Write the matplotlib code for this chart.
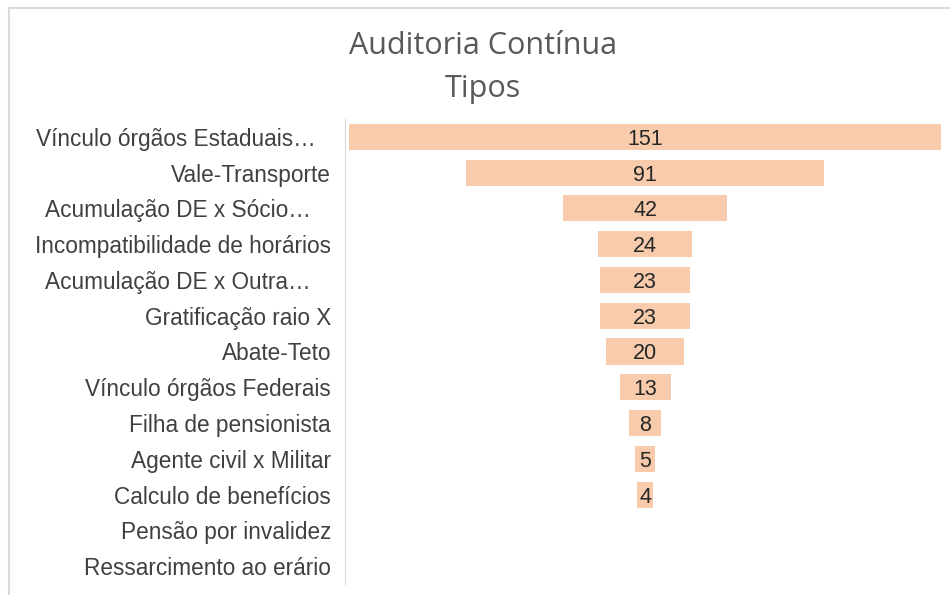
import matplotlib
matplotlib.use("Agg")
import matplotlib.pyplot as plt
from matplotlib.lines import Line2D
from matplotlib.transforms import ScaledTranslation

categories = ["Vínculo órgãos Estaduais…", "Vale-Transporte", "Acumulação DE x Sócio…",
              "Incompatibilidade de horários", "Acumulação DE x Outra…", "Gratificação raio X",
              "Abate-Teto", "Vínculo órgãos Federais", "Filha de pensionista",
              "Agente civil x Militar", "Calculo de benefícios", "Pensão por invalidez",
              "Ressarcimento ao erário"]
values = [151, 91, 42, 24, 23, 23, 20, 13, 8, 5, 4, 0, 0]

bar_color = "#F7CBAC"

plt.rcParams['font.family'] = ['Liberation Sans', 'DejaVu Sans']

fig = plt.figure(figsize=(9.5, 5.95), dpi=100)
ax = fig.add_axes([0.363, 0.0185, 0.632, 0.7815])

pos = list(range(len(categories)))
lefts = [-v / 2 for v in values]
ax.barh(pos, values, left=lefts, height=0.73, color=bar_color)

for p, v in zip(pos, values):
    if v > 0:
        ax.text(0, p, str(v), ha="center", va="center_baseline", fontsize=15.5, color="#262626")

ax.set_xlim(-76.5, 76.5)
ax.set_ylim(len(categories) - 0.5, -0.5)
ax.set_yticks(pos)
ax.set_yticklabels(categories, fontsize=16.3, color="#404040")
ax.tick_params(axis="y", length=0, pad=10)
ax.set_xticks([])
for s in ["top", "right", "bottom"]:
    ax.spines[s].set_visible(False)
ax.spines["left"].set_color("#D9D9D9")

# truncated labels sit a little further left, as in the original
for lab in ax.get_yticklabels():
    if lab.get_text().endswith("…"):
        dx = -15 if lab.get_text().startswith("Vínculo") else -20
        lab.set_transform(lab.get_transform() + ScaledTranslation(dx / 100, 0, fig.dpi_scale_trans))

fig.text(0.508, 0.922, "Auditoria Contínua", ha="center", va="center",
         fontsize=22, color="#595959", family=["Open Sans", "DejaVu Sans"])
fig.text(0.508, 0.85, "Tipos", ha="center", va="center",
         fontsize=22, color="#595959", family=["Open Sans", "DejaVu Sans"])

# light outer frame (top and left edges only visible)
fig.add_artist(Line2D([9 / 950, 1], [1 - 8 / 595, 1 - 8 / 595], transform=fig.transFigure,
                      color="#D9D9D9", lw=1.5))
fig.add_artist(Line2D([9 / 950, 9 / 950], [0, 1 - 8 / 595], transform=fig.transFigure,
                      color="#D9D9D9", lw=1.5))

fig.savefig("out.png", dpi=100)
